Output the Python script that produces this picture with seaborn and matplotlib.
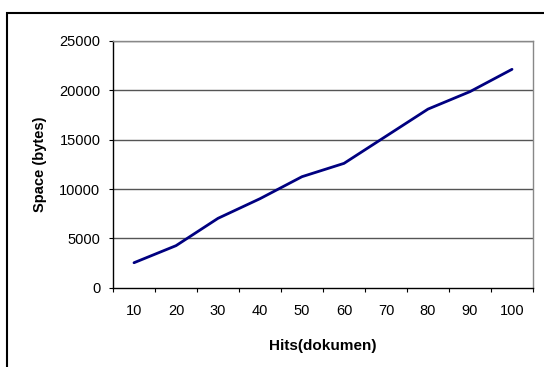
import matplotlib
matplotlib.use("Agg")
import matplotlib.pyplot as plt
import seaborn as sns
import pandas as pd
from matplotlib.patches import Rectangle
from matplotlib.ticker import FixedLocator

hits = ["10", "20", "30", "40", "50", "60", "70", "80", "90", "100"]
space = [2530, 4260, 7030, 9020, 11250, 12600, 15350, 18100, 19870, 22130]
y_ticks = [0, 5000, 10000, 15000, 20000, 25000]

sns.set_theme(style="white")
plt.rcParams['font.family'] = ['Liberation Sans', 'DejaVu Sans']

df = pd.DataFrame({"Hits": hits, "Space": space})

fig = plt.figure(figsize=(5.44, 3.67), dpi=100)
ax = fig.add_axes([113/544, 1-287.7/367, (533-113)/544, (287.7-41)/367])

sns.lineplot(data=df, x="Hits", y="Space", ax=ax, color="#000080", linewidth=2.0, sort=False)

ax.set_xlim(-0.5, 9.5)
ax.set_ylim(0, 25000)
ax.set_yticks(y_ticks)
ax.set_yticklabels([str(v) for v in y_ticks], fontsize=10.5, color="black")
ax.set_xticks(range(len(hits)))
ax.set_xticklabels(hits, fontsize=10.5, color="black")
ax.xaxis.set_minor_locator(FixedLocator([i - 0.5 for i in range(len(hits) + 1)]))
ax.tick_params(axis="x", which="major", length=0, pad=12)
ax.tick_params(axis="x", which="minor", length=3, width=0.8, color="black", direction="out", bottom=True)
ax.tick_params(axis="y", which="major", length=3, width=0.8, color="black", direction="out", left=True, pad=6)

for v in y_ticks[1:]:
    ax.axhline(v, color="#555555", linewidth=1.0, zorder=0)

for s in ["left", "bottom"]:
    ax.spines[s].set_color("black")
    ax.spines[s].set_linewidth(1.0)
for s in ["right", "top"]:
    ax.spines[s].set_color("#888888")
    ax.spines[s].set_linewidth(1.0)
    ax.spines[s].set_visible(True)

ax.set_xlabel("Hits(dokumen)", fontsize=11, fontweight="bold", labelpad=15, color="black")
ax.set_ylabel("Space (bytes)", fontsize=10.5, fontweight="bold", labelpad=9, color="black")

fig.patches.append(Rectangle((7/544, -0.2), 1.5, 1 - 13/367 + 0.2, transform=fig.transFigure,
                             fill=False, edgecolor="black", linewidth=1.5, zorder=10))

fig.savefig("out.png", dpi=100)
